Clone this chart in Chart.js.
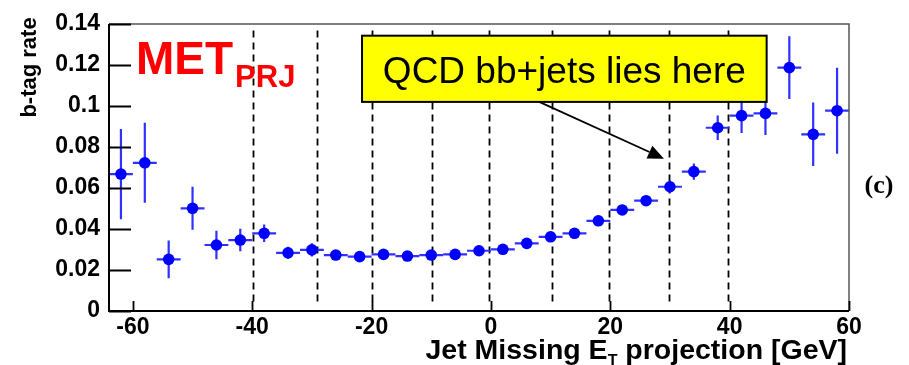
<!DOCTYPE html>
<html>
<head>
<meta charset="utf-8">
<title>b-tag rate vs Jet Missing ET projection</title>
<script src="https://cdn.jsdelivr.net/npm/chart.js@4/dist/chart.umd.min.js"></script>
<style>
  html, body { margin: 0; padding: 0; background: #ffffff; }
  #wrap { width: 909px; height: 365px; }
</style>
</head>
<body>
<div id="wrap"><canvas id="c" width="909" height="365"></canvas></div>
<script>
// Bin centres of the MET projection histogram [GeV]
const binCentres = [-62, -58, -54, -50, -46, -42, -38, -34, -30, -26, -22, -18, -14, -10, -6, -2,
                    2, 6, 10, 14, 18, 22, 26, 30, 34, 38, 42, 46, 50, 54, 58];
// b-tag rate per bin
const bTagRate = [0.0668, 0.0723, 0.0252, 0.0501, 0.0322, 0.0346, 0.0379, 0.0284, 0.0298, 0.0273,
                  0.0265, 0.0276, 0.0268, 0.0273, 0.0276, 0.0294, 0.0301, 0.0330, 0.0362, 0.0379,
                  0.0440, 0.0493, 0.0538, 0.0606, 0.0680, 0.0894, 0.0953, 0.0964, 0.1187, 0.0862, 0.0977];
// Statistical uncertainty on the rate
const rateErr = [0.0220, 0.0195, 0.0092, 0.0105, 0.0070, 0.0055, 0.0043, 0.0030, 0.0032, 0.0025,
                 0.0025, 0.0025, 0.0025, 0.0025, 0.0025, 0.0025, 0.0025, 0.0025, 0.0025, 0.0025,
                 0.0025, 0.0025, 0.0025, 0.0030, 0.0040, 0.0060, 0.0085, 0.0105, 0.0153, 0.0155, 0.0210];
// Half bin width [GeV]
const binHalfWidth = 2;
// Axis ticks
const xTickValues = [-60, -40, -20, 0, 20, 40, 60];
const yTickValues = [0, 0.02, 0.04, 0.06, 0.08, 0.1, 0.12, 0.14];
// Vertical dashed cut lines [GeV]
const cutLines = [-39.8, -29.2, -20, -9.9, -0.3, 10.2, 19.8, 29.8, 39.7];

const FONT = '"Liberation Sans", Arial, sans-serif';

const points = binCentres.map((x, i) => ({ x: x, y: bTagRate[i] }));

// Error bars and dashed cut lines, drawn under the markers
const underlay = {
  id: 'underlay',
  beforeDatasetsDraw(chart) {
    const ctx = chart.ctx, xs = chart.scales.x, ys = chart.scales.y;
    ctx.save();
    // dashed lines
    ctx.strokeStyle = '#000000';
    ctx.lineWidth = 1.8;
    ctx.setLineDash([7, 5]);
    cutLines.forEach(v => {
      const px = Math.round(xs.getPixelForValue(v)) + 0.5;
      ctx.beginPath();
      ctx.moveTo(px, ys.getPixelForValue(0.1368));
      ctx.lineTo(px, ys.getPixelForValue(0.0035));
      ctx.stroke();
    });
    ctx.setLineDash([]);
    // error bars
    ctx.strokeStyle = '#3030ff';
    ctx.lineWidth = 2.2;
    binCentres.forEach((x, i) => {
      const y = bTagRate[i], e = rateErr[i];
      const cx = xs.getPixelForValue(x), cy = ys.getPixelForValue(y);
      ctx.beginPath();
      ctx.moveTo(xs.getPixelForValue(x - binHalfWidth), cy);
      ctx.lineTo(xs.getPixelForValue(x + binHalfWidth), cy);
      ctx.moveTo(cx, ys.getPixelForValue(y + e));
      ctx.lineTo(cx, ys.getPixelForValue(y - e));
      ctx.stroke();
    });
    ctx.restore();
  }
};

// Frame, ticks, titles and labels
const overlay = {
  id: 'overlay',
  afterDatasetsDraw(chart) {
    const ctx = chart.ctx, a = chart.chartArea, xs = chart.scales.x, ys = chart.scales.y;
    ctx.save();
    // top / right frame
    ctx.strokeStyle = '#555555';
    ctx.lineWidth = 1.5;
    ctx.beginPath();
    ctx.moveTo(a.left, a.top);
    ctx.lineTo(a.right, a.top);
    ctx.lineTo(a.right, a.bottom);
    ctx.stroke();
    // left / bottom axes
    ctx.strokeStyle = '#000000';
    ctx.lineWidth = 2;
    ctx.beginPath();
    ctx.moveTo(a.left, a.top);
    ctx.lineTo(a.left, a.bottom);
    ctx.lineTo(a.right, a.bottom);
    ctx.stroke();
    // ticks
    ctx.lineWidth = 1.8;
    ctx.beginPath();
    yTickValues.forEach(v => {
      const py = Math.round(ys.getPixelForValue(v)) + 0.5;
      ctx.moveTo(a.left, py);
      ctx.lineTo(a.left + 22, py);
    });
    xTickValues.forEach(v => {
      const px = Math.round(xs.getPixelForValue(v)) + 0.5;
      ctx.moveTo(px, a.bottom);
      ctx.lineTo(px, a.bottom - 10);
    });
    ctx.stroke();

    // annotation box
    const bx0 = xs.getPixelForValue(-21.6), bx1 = xs.getPixelForValue(46.2);
    const by0 = ys.getPixelForValue(0.1343), by1 = ys.getPixelForValue(0.1020);
    ctx.fillStyle = '#ffff00';
    ctx.fillRect(bx0, by0, bx1 - bx0, by1 - by0);
    ctx.strokeStyle = '#000000';
    ctx.lineWidth = 2;
    ctx.strokeRect(bx0, by0, bx1 - bx0, by1 - by0);
    ctx.fillStyle = '#000000';
    ctx.font = '37px ' + FONT;
    ctx.textAlign = 'center';
    ctx.textBaseline = 'alphabetic';
    ctx.fillText('QCD bb+jets lies here', (bx0 + bx1) / 2, by0 + 47);

    // arrow
    const ax0 = xs.getPixelForValue(8.1), ay0 = ys.getPixelForValue(0.1020);
    const ax1 = xs.getPixelForValue(29.0), ay1 = ys.getPixelForValue(0.0743);
    const ang = Math.atan2(ay1 - ay0, ax1 - ax0);
    const hl = 16, hw = 7;
    ctx.lineWidth = 1.8;
    ctx.beginPath();
    ctx.moveTo(ax0, ay0);
    ctx.lineTo(ax1 - hl * Math.cos(ang), ay1 - hl * Math.sin(ang));
    ctx.stroke();
    ctx.beginPath();
    ctx.moveTo(ax1, ay1);
    ctx.lineTo(ax1 - hl * Math.cos(ang) + hw * Math.sin(ang), ay1 - hl * Math.sin(ang) - hw * Math.cos(ang));
    ctx.lineTo(ax1 - hl * Math.cos(ang) - hw * Math.sin(ang), ay1 - hl * Math.sin(ang) + hw * Math.cos(ang));
    ctx.closePath();
    ctx.fill();

    // MET_PRJ label
    ctx.fillStyle = '#ff0000';
    ctx.textAlign = 'left';
    ctx.font = 'bold 46px ' + FONT;
    ctx.fillText('MET', 136, 74);
    const wMet = ctx.measureText('MET').width;
    ctx.font = 'bold 31px ' + FONT;
    ctx.fillText('PRJ', 136 + wMet + 2, 87);

    // y-axis title
    ctx.fillStyle = '#000000';
    ctx.font = 'bold 22px ' + FONT;
    ctx.save();
    ctx.translate(30, 67.5);
    ctx.rotate(-Math.PI / 2);
    ctx.textAlign = 'center';
    ctx.textBaseline = 'middle';
    ctx.fillText('b-tag rate', 0, 0);
    ctx.restore();

    // x-axis title with subscript
    const fMain = 'bold 28.5px ' + FONT, fSub = 'bold 16px ' + FONT;
    const t1 = 'Jet Missing E', t2 = 'T', t3 = ' projection [GeV]';
    ctx.font = fMain;
    const w1 = ctx.measureText(t1).width, w3 = ctx.measureText(t3).width;
    ctx.font = fSub;
    const w2 = ctx.measureText(t2).width;
    let x = 847 - (w1 + w2 + w3);
    ctx.textAlign = 'left';
    ctx.textBaseline = 'alphabetic';
    ctx.font = fMain; ctx.fillText(t1, x, 359); x += w1;
    ctx.font = fSub; ctx.fillText(t2, x, 366); x += w2;
    ctx.font = fMain; ctx.fillText(t3, x, 359);

    // panel tag
    ctx.font = 'bold 26px "Liberation Serif", "Times New Roman", serif';
    ctx.textAlign = 'center';
    ctx.textBaseline = 'middle';
    ctx.fillText('(c)', 879, 186);
    ctx.restore();
  }
};

new Chart(document.getElementById('c'), {
  type: 'scatter',
  data: {
    datasets: [{
      data: points,
      pointRadius: 5.8,
      pointHoverRadius: 5.8,
      pointBackgroundColor: '#0000ff',
      pointBorderWidth: 0,
      borderWidth: 0,
      showLine: false
    }]
  },
  options: {
    responsive: false,
    animation: false,
    events: [],
    layout: { padding: { left: 0, right: 60, top: 24, bottom: 0 } },
    plugins: { legend: { display: false }, tooltip: { enabled: false } },
    scales: {
      x: {
        type: 'linear',
        min: -64,
        max: 60,
        border: { display: false },
        grid: { display: false, drawTicks: false },
        afterBuildTicks: s => { s.ticks = xTickValues.map(v => ({ value: v })); },
        afterFit: s => { s.height = 54; },
        ticks: {
          padding: 3,
          maxRotation: 0,
          autoSkip: false,
          color: '#000000',
          font: { family: FONT, size: 23, weight: 'bold' },
          callback: v => String(v)
        }
      },
      y: {
        type: 'linear',
        min: 0,
        max: 0.14,
        border: { display: false },
        grid: { display: false, drawTicks: false },
        afterBuildTicks: s => { s.ticks = yTickValues.map(v => ({ value: v })); },
        afterFit: s => { s.width = 109; },
        ticks: {
          padding: 9,
          autoSkip: false,
          color: '#000000',
          font: { family: FONT, size: 23, weight: 'bold' },
          callback: v => String(Number(v.toFixed(2)))
        }
      }
    }
  },
  plugins: [underlay, overlay]
});
</script>
</body>
</html>
